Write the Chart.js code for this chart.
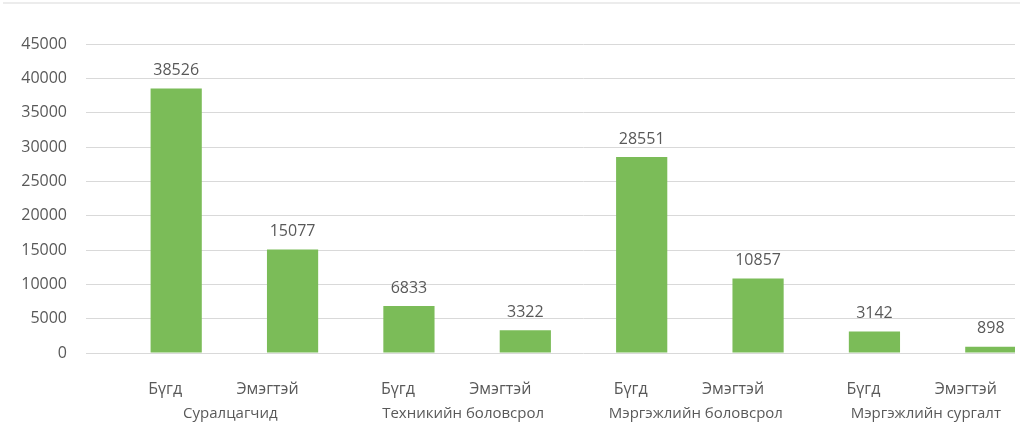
<!DOCTYPE html>
<html>
<head>
<meta charset="utf-8">
<script src="https://cdn.jsdelivr.net/npm/chart.js@4/dist/chart.umd.min.js"></script>
<style>
  body { margin: 0; background: #fff; }
  #wrap { position: relative; width: 1015px; height: 423px; overflow: hidden; }
  #topline { position: absolute; left: 3px; top: 2px; width: 1017px; height: 2px; background: #ececec; }
</style>
</head>
<body>
<div id="topline"></div>
<div id="wrap">
  <canvas id="eduChart" width="1050" height="423"></canvas>
</div>
<script>
// data
const categories = ['Бүгд', 'Эмэгтэй', 'Бүгд', 'Эмэгтэй', 'Бүгд', 'Эмэгтэй', 'Бүгд', 'Эмэгтэй'];
const groups = ['Суралцагчид', 'Техникийн боловсрол', 'Мэргэжлийн боловсрол', 'Мэргэжлийн сургалт'];
const values = [38526, 15077, 6833, 3322, 28551, 10857, 3142, 898];
const yMax = 45000;
const yStep = 5000;

const textColor = '#595959';
const fontFamily = '"Open Sans", "DejaVu Sans", sans-serif';

// value labels above the bars
const valueLabels = {
    id: 'valueLabels',
    afterDatasetsDraw(chart) {
        const ctx = chart.ctx;
        const meta = chart.getDatasetMeta(0);
        ctx.save();
        ctx.font = '16px ' + fontFamily;
        ctx.fillStyle = textColor;
        ctx.textAlign = 'center';
        ctx.textBaseline = 'middle';
        meta.data.forEach((bar, i) => {
            ctx.fillText(values[i], bar.x, bar.y - 18);
        });
        ctx.restore();
    }
};

// two rows of category labels: bar labels, then the group under each pair
// (the original's labels sit a little left of the bar centres)
const categoryLabels = {
    id: 'categoryLabels',
    afterDraw(chart) {
        const ctx = chart.ctx;
        const x = chart.scales.x;
        ctx.save();
        ctx.fillStyle = textColor;
        ctx.textAlign = 'center';
        ctx.textBaseline = 'middle';
        ctx.font = '16px ' + fontFamily;
        categories.forEach((c, i) => {
            const shift = i % 2 === 0 ? -11 : -25;
            ctx.fillText(c, x.getPixelForTick(i) + shift, 389);
        });
        ctx.font = '15px ' + fontFamily;
        groups.forEach((g, i) => {
            let cx = (x.getPixelForTick(i * 2) + x.getPixelForTick(i * 2 + 1)) / 2 - 4;
            const w = ctx.measureText(g).width;
            if (cx + w / 2 > 1001) cx = 1001 - w / 2;
            ctx.fillText(g, cx, 414);
        });
        ctx.restore();
    }
};

const ctx = document.getElementById('eduChart').getContext('2d');
new Chart(ctx, {
    type: 'bar',
    data: {
        labels: categories,
        datasets: [{
            data: values,
            backgroundColor: '#7bbc58',
            barPercentage: 0.44,
            categoryPercentage: 1
        }]
    },
    options: {
        responsive: false,
        animation: false,
        layout: { padding: { top: 44, right: 1, left: 0, bottom: 0 } },
        plugins: {
            legend: { display: false },
            tooltip: { enabled: false }
        },
        scales: {
            x: {
                grid: { display: false },
                border: { display: false },
                ticks: { display: false },
                afterFit(scale) { scale.height = 70; }
            },
            y: {
                min: 0,
                max: yMax,
                border: { display: false },
                grid: {
                    color: '#d9d9d9',
                    lineWidth: 1,
                    drawTicks: true,
                    tickLength: 32,
                    tickColor: '#d9d9d9'
                },
                ticks: {
                    stepSize: yStep,
                    color: textColor,
                    font: { family: fontFamily, size: 16 },
                    padding: 19,
                    callback: (v) => String(v)
                },
                afterFit(scale) { scale.width = 118; }
            }
        }
    },
    plugins: [valueLabels, categoryLabels]
});
</script>
</body>
</html>
